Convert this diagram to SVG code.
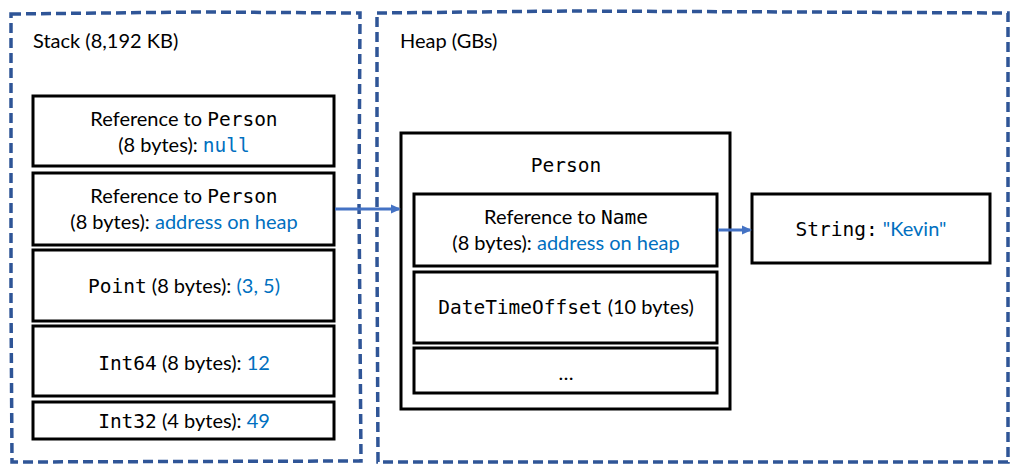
<svg xmlns="http://www.w3.org/2000/svg" width="1013" height="464" viewBox="0 0 1013 464">
<style>
.region{fill:none;stroke:#2F5597;stroke-width:3.5;stroke-dasharray:10 5}
.box{fill:#fff;stroke:#000;stroke-width:3}
.t{font-family:Lato,"Noto Sans",sans-serif;font-size:20px;fill:#000}
.lbl{font-family:Lato,"Noto Sans",sans-serif;font-size:20px;fill:#000}
.m{font-family:"DejaVu Sans Mono","Liberation Mono",monospace;font-size:19.5px}
.v{fill:#0070C0}
.conn{stroke:#4472C4;stroke-width:3;fill:none}
</style>
<defs>
<marker id="ah" markerWidth="10" markerHeight="10" refX="8" refY="5" orient="auto" markerUnits="userSpaceOnUse">
<path d="M0,0.5 L10,5 L0,9.5 Z" fill="#4472C4"/>
</marker>
</defs>
<g id="stack">
<path class="region" d="M11,14 L200,12 L360,13 L359,200 L361,461 L12,462 L11,300 Z"/>
<text class="lbl" x="33" y="48">Stack (8,192 KB)</text>
</g>
<g id="heap">
<path class="region" d="M377,13 L570,11 L800,12 L1008,13 L1008,240 L1008,462 L378,462 L377,250 Z"/>
<text class="lbl" x="400" y="48">Heap (GBs)</text>
</g>
<g id="s1">
<rect class="box" x="33" y="96" width="301" height="70"/>
<text class="t" x="184" y="126" text-anchor="middle">Reference to <tspan class="m">Person</tspan></text>
<text class="t" x="184" y="152" text-anchor="middle">(8 bytes): <tspan class="m v">null</tspan></text>
</g>
<g id="s2">
<rect class="box" x="33" y="173" width="301" height="72"/>
<text class="t" x="184" y="203" text-anchor="middle">Reference to <tspan class="m">Person</tspan></text>
<text class="t" x="184" y="229" text-anchor="middle">(8 bytes): <tspan class="v">address on heap</tspan></text>
</g>
<g id="s3">
<rect class="box" x="33" y="250" width="301" height="71"/>
<text class="t" x="184" y="293" text-anchor="middle"><tspan class="m">Point</tspan> (8 bytes): <tspan class="v">(3, 5)</tspan></text>
</g>
<g id="s4">
<rect class="box" x="33" y="326" width="301" height="70"/>
<text class="t" x="184" y="370" text-anchor="middle"><tspan class="m">Int64</tspan> (8 bytes): <tspan class="v">12</tspan></text>
</g>
<g id="s5">
<rect class="box" x="33" y="402" width="301" height="37"/>
<text class="t" x="184" y="428" text-anchor="middle"><tspan class="m">Int32</tspan> (4 bytes): <tspan class="v">49</tspan></text>
</g>
<g id="person">
<rect class="box" x="401" y="133" width="329" height="276"/>
<text class="t" x="566" y="172" text-anchor="middle"><tspan class="m">Person</tspan></text>
</g>
<g id="h1">
<rect class="box" x="414" y="194" width="303" height="72"/>
<text class="t" x="566" y="224" text-anchor="middle">Reference to <tspan class="m">Name</tspan></text>
<text class="t" x="566" y="250" text-anchor="middle">(8 bytes): <tspan class="v">address on heap</tspan></text>
</g>
<g id="h2">
<rect class="box" x="414" y="272" width="303" height="71"/>
<text class="t" x="566" y="314" text-anchor="middle"><tspan class="m">DateTimeOffset</tspan> (10 bytes)</text>
</g>
<g id="h3">
<rect class="box" x="414" y="348" width="303" height="45"/>
<text class="t" x="566" y="380" text-anchor="middle">…</text>
</g>
<g id="str">
<rect class="box" x="752" y="194" width="238" height="69"/>
<text class="t" x="871" y="236" text-anchor="middle"><tspan class="m">String:</tspan> <tspan class="v">"Kevin"</tspan></text>
</g>
<g id="connectors">
<line class="conn" x1="335" y1="209" x2="399" y2="209" marker-end="url(#ah)"/>
<line class="conn" x1="718" y1="230" x2="750" y2="230" marker-end="url(#ah)"/>
</g>
</svg>
